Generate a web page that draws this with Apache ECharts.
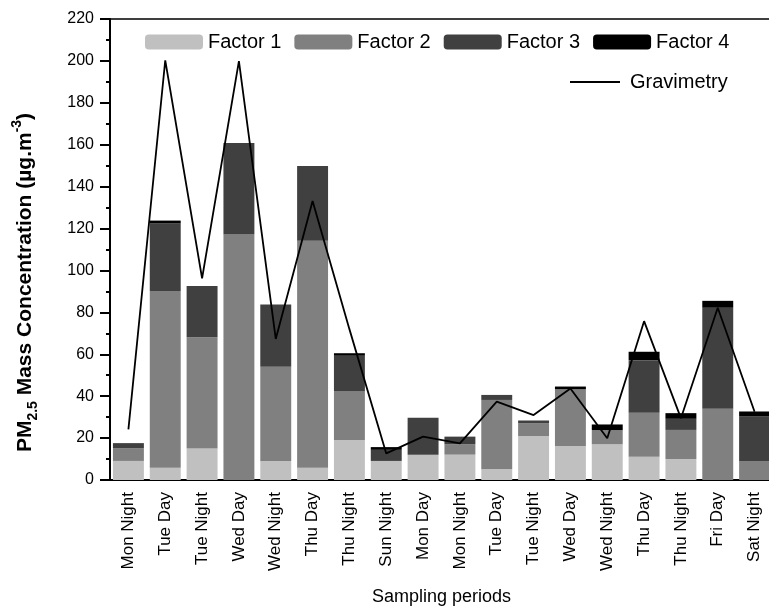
<!DOCTYPE html>
<html><head><meta charset="utf-8">
<script src="https://cdn.jsdelivr.net/npm/echarts@6/dist/echarts.min.js"></script>
<style>html,body{margin:0;padding:0;background:#fff}#c{width:769px;height:609px}</style>
</head><body><div id="c"></div>
<script>
const categories = ['Mon Night','Tue Day','Tue Night','Wed Day','Wed Night','Thu Day','Thu Night','Sun Night','Mon Day','Mon Night','Tue Day','Tue Night','Wed Day','Wed Night','Thu Day','Thu Night','Fri Day','Sat Night'];
const factor1 = [9.1, 5.9, 15.0, 0, 9.1, 5.9, 19.1, 9.1, 12.1, 12.1, 5.1, 21.0, 16.2, 17.0, 11.1, 10.0, 0, 0];
const factor2 = [6.0, 84.3, 53.1, 117.2, 45.0, 108.3, 23.1, 0, 0, 4.9, 33.1, 6.0, 27.1, 6.8, 21.0, 13.9, 34.0, 9.1];
const factor3 = [2.5, 32.3, 24.5, 43.6, 29.6, 35.6, 17.1, 5.3, 17.6, 3.7, 2.4, 1.4, 0, 0, 25.1, 5.3, 48.2, 21.2];
const factor4 = [0, 1.3, 0, 0, 0, 0, 1.2, 1.3, 0, 0, 0, 0, 1.3, 2.7, 4.0, 2.7, 3.3, 2.4];
const gravimetry = [24.2, 200.3, 96.2, 199.9, 67.3, 133.1, 72.0, 12.7, 20.7, 17.5, 37.4, 31.0, 43.7, 19.9, 75.8, 29.5, 82.2, 32.6];
const yTicks = {min: 0, max: 220, interval: 20};

const FONT = '"Liberation Sans", Arial, sans-serif';
const chart = echarts.init(document.getElementById('c'), null, {renderer: 'canvas'});
const barColors = ['#c0c0c0', '#808080', '#404040', '#000000'];
const factors = [factor1, factor2, factor3, factor4];
const barSeries = factors.map((d, i) => ({
  name: 'Factor ' + (i + 1), type: 'bar', stack: 'f', data: d,
  barCategoryGap: '16%', itemStyle: {color: barColors[i]}, z: 2
}));
chart.setOption({
  animation: false,
  textStyle: {fontFamily: FONT},
  grid: {left: 110, right: -4, top: 19, bottom: 129, containLabel: false, outerBoundsMode: 'none'},
  legend: [{
    data: ['Factor 1', 'Factor 2', 'Factor 3', 'Factor 4'],
    left: 140, top: 27, itemWidth: 58, itemHeight: 15, itemGap: 13,
    textStyle: {fontFamily: FONT, fontSize: 20, color: '#000'}
  }, {
    data: [{name: 'Gravimetry', icon: 'rect'}], left: 565, top: 67, itemWidth: 50, itemHeight: 2,
    textStyle: {fontFamily: FONT, fontSize: 20, color: '#000', padding: [0, 0, 0, 5]}
  }],
  xAxis: [{
    type: 'category', data: categories, position: 'bottom',
    axisLine: {lineStyle: {color: '#000', width: 2}},
    axisTick: {alignWithLabel: true, length: 9, lineStyle: {color: '#000', width: 2}},
    axisLabel: {rotate: 90, fontSize: 17, color: '#000', fontFamily: FONT, margin: 12, interval: 0},
    name: 'Sampling periods', nameLocation: 'middle', nameGap: 108,
    nameTextStyle: {fontSize: 18, color: '#000', fontFamily: FONT}
  }, {
    type: 'category', data: categories, position: 'top',
    axisLine: {lineStyle: {color: '#000', width: 1.5}},
    axisTick: {inside: true, length: 3, lineStyle: {color: '#000'}},
    axisLabel: {show: false}
  }, {
    type: 'category', data: categories, position: 'bottom',
    axisLine: {show: false},
    axisTick: {length: 4, lineStyle: {color: '#000', width: 2}},
    axisLabel: {show: false}
  }],
  yAxis: {
    type: 'value', min: yTicks.min, max: yTicks.max, interval: yTicks.interval,
    axisLine: {show: true, lineStyle: {color: '#000', width: 2}},
    axisTick: {show: true, length: 10, lineStyle: {color: '#000', width: 2}},
    minorTick: {show: true, splitNumber: 2, length: 4, lineStyle: {color: '#000', width: 2}},
    splitLine: {show: false},
    axisLabel: {fontSize: 16, color: '#000', fontFamily: FONT, margin: 16},
    name: '{b|PM}{s|2.5}{b| Mass Concentration (µg.m}{p|-3}{b|)}',
    nameLocation: 'middle', nameGap: 70, nameRotate: 90,
    nameTextStyle: {
      color: '#000', fontFamily: FONT, padding: [0, 66, 0, 0],
      rich: {
        b: {fontSize: 21, fontWeight: 'bold', fontFamily: FONT, color: '#000', lineHeight: 30, verticalAlign: 'middle'},
        s: {fontSize: 14, fontWeight: 'bold', fontFamily: FONT, color: '#000', lineHeight: 30, verticalAlign: 'bottom', padding: [10, 0, 0, 0]},
        p: {fontSize: 14, fontWeight: 'bold', fontFamily: FONT, color: '#000', lineHeight: 30, verticalAlign: 'top', padding: [0, 0, 10, 0]}
      }
    }
  },
  series: [...barSeries, {
    name: 'Gravimetry', type: 'line', data: gravimetry, symbol: 'none',
    lineStyle: {color: '#000', width: 1.8}, itemStyle: {color: '#000'}, z: 5
  }]
});
</script></body></html>
